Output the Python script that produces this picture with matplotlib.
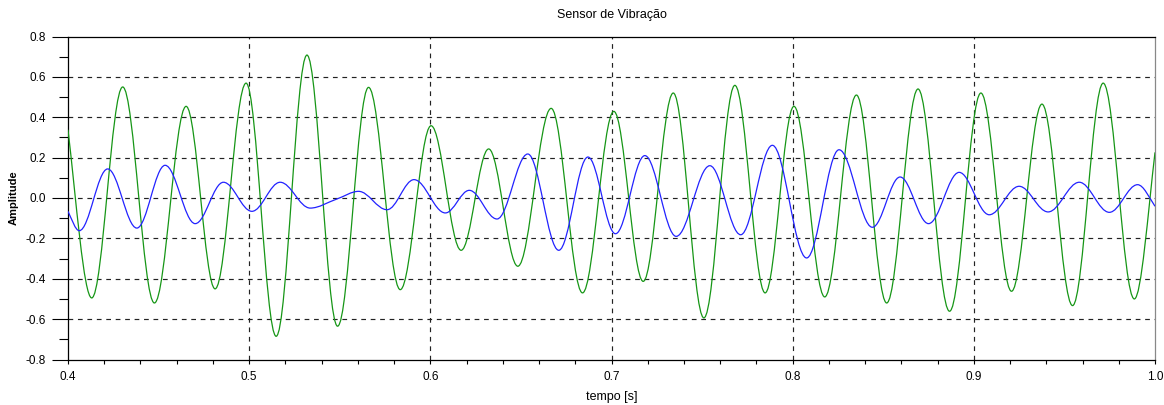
import numpy as np
import matplotlib
matplotlib.use("Agg")
import matplotlib.pyplot as plt
from matplotlib.path import Path
from matplotlib.patches import PathPatch
from matplotlib.ticker import MultipleLocator, FormatStrFormatter

# Turning points of each signal (time in s, amplitude)
green_t = [0.4000, 0.4131, 0.4302, 0.4477, 0.4652, 0.4812, 0.4983, 0.5149, 0.5319, 0.5488,
           0.5659, 0.5834, 0.6004, 0.6170, 0.6322, 0.6483, 0.6667, 0.6840, 0.7013, 0.7175,
           0.7341, 0.7510, 0.7681, 0.7848, 0.8007, 0.8177, 0.8352, 0.8519, 0.8692, 0.8866,
           0.9039, 0.9208, 0.9376, 0.9545, 0.9714, 0.9886, 1.0000]
green_v = [0.338, -0.495, 0.550, -0.520, 0.454, -0.450, 0.569, -0.685, 0.708, -0.635,
           0.548, -0.454, 0.358, -0.259, 0.243, -0.338, 0.444, -0.470, 0.429, -0.413,
           0.520, -0.594, 0.558, -0.470, 0.454, -0.490, 0.510, -0.520, 0.540, -0.561,
           0.520, -0.462, 0.465, -0.533, 0.569, -0.500, 0.226]

blue_t = [0.4000, 0.4062, 0.4219, 0.4380, 0.4536, 0.4702, 0.4858, 0.5015, 0.5171, 0.5337,
          0.5484, 0.5604, 0.5761, 0.5910, 0.6083, 0.6215, 0.6368, 0.6538, 0.6709, 0.6870,
          0.7022, 0.7184, 0.7357, 0.7543, 0.7713, 0.7888, 0.8077, 0.8256, 0.8440, 0.8593,
          0.8750, 0.8919, 0.9085, 0.9250, 0.9410, 0.9582, 0.9748, 0.9904, 1.0000]
blue_v = [-0.066, -0.162, 0.144, -0.149, 0.162, -0.127, 0.078, -0.066, 0.078, -0.050,
          -0.005, 0.033, -0.058, 0.091, -0.074, 0.038, -0.104, 0.218, -0.259, 0.203,
          -0.177, 0.210, -0.190, 0.160, -0.182, 0.261, -0.297, 0.239, -0.145, 0.104,
          -0.127, 0.127, -0.083, 0.058, -0.069, 0.078, -0.071, 0.066, -0.041]

x_ticks = [0.4, 0.5, 0.6, 0.7, 0.8, 0.9, 1.0]
y_ticks = [-0.8, -0.6, -0.4, -0.2, 0.0, 0.2, 0.4, 0.6, 0.8]

TITLE = "Sensor de Vibração"
XLABEL = "tempo [s]"
YLABEL = "Amplitude"

FONT = ["Liberation Sans Narrow", "Liberation Sans", "DejaVu Sans"]
plt.rcParams["font.family"] = FONT
plt.rcParams["axes.unicode_minus"] = False


def smooth_path(t, y):
    """Cubic Bezier path through the points, flat at every turning point."""
    t = np.asarray(t, float)
    y = np.asarray(y, float)
    h = np.diff(t)
    d = np.diff(y) / h
    n = len(t)
    m = np.zeros(n)
    for i in range(1, n - 1):
        if d[i - 1] * d[i] > 0:
            w1 = 2 * h[i] + h[i - 1]
            w2 = h[i] + 2 * h[i - 1]
            m[i] = (w1 + w2) / (w1 / d[i - 1] + w2 / d[i])
    m[0] = 1.2 * d[0]
    m[-1] = 1.2 * d[-1]
    verts = [(t[0], y[0])]
    codes = [Path.MOVETO]
    for i in range(n - 1):
        k = 0.36 if (m[i] == 0 and m[i + 1] == 0) else 1.0 / 3.0
        verts.append((t[i] + k * h[i], y[i] + k * h[i] * m[i]))
        verts.append((t[i + 1] - k * h[i], y[i + 1] - k * h[i] * m[i + 1]))
        verts.append((t[i + 1], y[i + 1]))
        codes += [Path.CURVE4] * 3
    return Path(verts, codes)


fig = plt.figure(figsize=(11.64, 4.05), dpi=100)
W, H = 1164.0, 405.0
ax_l, ax_r, ax_t, ax_b = 68.0, 1155.0, 36.5, 359.5
ax = fig.add_axes([ax_l / W, 1 - ax_b / H, (ax_r - ax_l) / W, (ax_b - ax_t) / H])

ax.add_patch(PathPatch(smooth_path(green_t, green_v), fill=False,
                       edgecolor="#169616", lw=0.9, zorder=3))
ax.add_patch(PathPatch(smooth_path(blue_t, blue_v), fill=False,
                       edgecolor="#2222ff", lw=0.9, zorder=3))

ax.set_xlim(x_ticks[0], x_ticks[-1])
ax.set_ylim(y_ticks[0], y_ticks[-1])
ax.set_xticks(x_ticks)
ax.set_yticks(y_ticks)
ax.xaxis.set_minor_locator(MultipleLocator(0.02))
ax.yaxis.set_minor_locator(MultipleLocator(0.1))
ax.xaxis.set_major_formatter(FormatStrFormatter("%.1f"))
ax.yaxis.set_major_formatter(FormatStrFormatter("%.1f"))

ax.tick_params(axis="y", which="major", direction="out", length=11.5, width=0.8,
               pad=4.5, labelsize=8.5, color="black")
ax.tick_params(axis="y", which="minor", direction="out", length=6.5, width=0.8,
               color="black")
ax.tick_params(axis="x", which="major", direction="out", length=3.0, width=0.8,
               pad=5.5, labelsize=8.5, color="black")
ax.tick_params(axis="x", which="minor", direction="out", length=3.0, width=0.8,
               color="black")

ax.grid(True, which="major", color="#222222", lw=0.85, linestyle=(0, (4, 4)))
for gl in (ax.xaxis.get_gridlines()[0], ax.xaxis.get_gridlines()[-1],
           ax.yaxis.get_gridlines()[0], ax.yaxis.get_gridlines()[-1]):
    gl.set_visible(False)

for side in ("left", "bottom", "top"):
    ax.spines[side].set_color("black")
    ax.spines[side].set_linewidth(0.9)
ax.spines["right"].set_color("#888888")
ax.spines["right"].set_linewidth(0.9)

cx = (ax_l + ax_r) / 2 / W
fig.text(cx, 1 - 15 / H, TITLE, ha="center", va="center", fontsize=9)
fig.text(cx, 1 - 397 / H, XLABEL, ha="center", va="center", fontsize=9)
fig.text(14 / W, 1 - 198 / H, YLABEL, ha="center", va="center", rotation=90,
         fontsize=8, fontweight="bold")

fig.savefig("out.png", dpi=100, facecolor="white")
